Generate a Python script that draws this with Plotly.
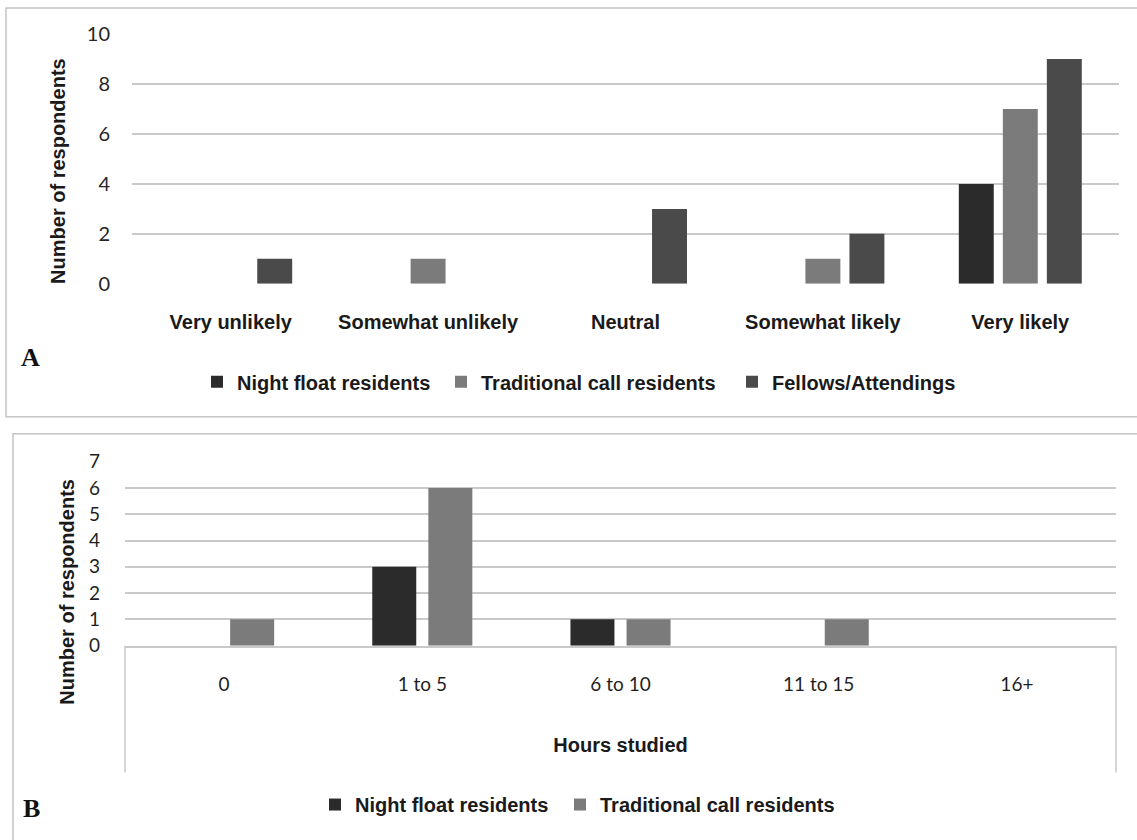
import plotly.graph_objects as go

# ---------------- Data ----------------
likelihood_categories = ["Very unlikely", "Somewhat unlikely", "Neutral", "Somewhat likely", "Very likely"]
a_night_float = [0, 0, 0, 0, 4]
a_traditional = [0, 1, 0, 1, 7]
a_fellows = [1, 0, 3, 2, 9]

hours_categories = ["0", "1 to 5", "6 to 10", "11 to 15", "16+"]
b_night_float = [0, 3, 1, 0, 0]
b_traditional = [1, 6, 1, 1, 0]

series_names = ["Night float residents", "Traditional call residents", "Fellows/Attendings"]
a_ticks = [0, 2, 4, 6, 8, 10]
b_ticks = [0, 1, 2, 3, 4, 5, 6, 7]

# ---------------- Style ----------------
W, H = 1137, 840
C_NIGHT = "#2b2b2b"
C_TRAD = "#7b7b7b"
C_FELL = "#4a4a4a"
GRID = "#c9c9c9"
BOX = "#c4c4c4"
ARIAL = "Liberation Sans, Arial, sans-serif"
CALIBRI = "Lato, Carlito, Calibri, sans-serif"
SERIF = "Liberation Serif, Times New Roman, serif"

# vertical calibration of the captured page
Y_OFF, Y_SCALE = 12.0, 0.972


def px_x(p):
    return p / W


def px_y(p):
    return 1 - ((p - Y_OFF) / Y_SCALE) / H


fig = go.Figure()

# Panel A bars
wA = 0.177
for name, vals, col, off, leg in [
    (series_names[0], a_night_float, C_NIGHT, -0.3115, "legend"),
    (series_names[1], a_traditional, C_TRAD, -0.0885, "legend2"),
    (series_names[2], a_fellows, C_FELL, 0.1345, "legend3"),
]:
    fig.add_trace(go.Bar(
        x=likelihood_categories, y=vals, name=name, xaxis="x", yaxis="y",
        width=wA, offset=off, marker=dict(color=col, line=dict(width=0)),
        legend=leg,
    ))

# Panel B bars
wB = 0.222
for name, vals, col, off, leg in [
    (series_names[0], b_night_float, C_NIGHT, -0.2525, "legend4"),
    (series_names[1], b_traditional, C_TRAD, 0.0305, "legend5"),
]:
    fig.add_trace(go.Bar(
        x=hours_categories, y=vals, name=name, xaxis="x2", yaxis="y2",
        width=wB, offset=off, marker=dict(color=col, line=dict(width=0)),
        legend=leg,
    ))

leg_font = dict(family=ARIAL, size=20, color="#1a1a1a", weight="bold")


def legend_at(text_start_px, y_px):
    return dict(
        orientation="h", x=px_x(text_start_px - 40), xanchor="left",
        y=px_y(y_px), yanchor="middle", font=leg_font,
        bgcolor="rgba(0,0,0,0)", borderwidth=0, itemclick=False, itemdoubleclick=False,
    )


fig.update_layout(
    width=W, height=H,
    margin=dict(l=0, r=0, t=0, b=0),
    paper_bgcolor="white", plot_bgcolor="white",
    barmode="overlay",
    showlegend=True,
    legend=legend_at(237, 381),
    legend2=legend_at(481, 381),
    legend3=legend_at(772, 381),
    legend4=legend_at(355, 804),
    legend5=legend_at(600, 804),
    xaxis=dict(
        domain=[px_x(132), px_x(1119)], anchor="y",
        type="category", categoryorder="array", categoryarray=likelihood_categories,
        showgrid=False, showline=False, zeroline=False, ticks="",
        tickfont=dict(family=ARIAL, size=20, color="#1a1a1a", weight="bold"),
        ticklabelstandoff=24,
    ),
    yaxis=dict(
        domain=[px_y(283), px_y(33)], anchor="x",
        range=[0, 10], tickvals=a_ticks, ticktext=[str(t) for t in a_ticks],
        showgrid=True, gridcolor=GRID, gridwidth=1.5, zeroline=False, showline=False, ticks="",
        tickfont=dict(family=CALIBRI, size=20, color="#262626"),
        ticklabelstandoff=21,
    ),
    xaxis2=dict(
        domain=[px_x(125), px_x(1116)], anchor="y2",
        type="category", categoryorder="array", categoryarray=hours_categories,
        showgrid=False, zeroline=False, showline=True, linecolor=GRID, linewidth=1.5, ticks="",
        tickfont=dict(family=CALIBRI, size=19, color="#1f1f1f"),
        ticklabelstandoff=21,
        title=dict(text="Hours studied", font=dict(family=ARIAL, size=20, color="#1a1a1a", weight="bold"), standoff=44),
    ),
    yaxis2=dict(
        domain=[px_y(645), px_y(461)], anchor="x2",
        range=[0, 7], tickvals=b_ticks, ticktext=[str(t) for t in b_ticks],
        showgrid=True, gridcolor=GRID, gridwidth=1.5, zeroline=False, showline=False, ticks="",
        tickfont=dict(family=CALIBRI, size=19, color="#1f1f1f"),
        ticklabelstandoff=24,
    ),
)

# Panel frames and Excel-style category box lines
shapes = [
    dict(type="rect", xref="paper", yref="paper", x0=px_x(6), x1=px_x(1150), y0=px_y(416), y1=px_y(7),
         line=dict(color=BOX, width=1.5), fillcolor="rgba(0,0,0,0)", layer="below"),
    dict(type="rect", xref="paper", yref="paper", x0=px_x(13), x1=px_x(1150), y0=px_y(880), y1=px_y(433),
         line=dict(color=BOX, width=1.5), fillcolor="rgba(0,0,0,0)", layer="below"),
    dict(type="line", xref="x2 domain", yref="paper", x0=0, x1=0, y0=px_y(645), y1=px_y(772),
         line=dict(color=GRID, width=1.5)),
    dict(type="line", xref="x2 domain", yref="paper", x0=1, x1=1, y0=px_y(645), y1=px_y(772),
         line=dict(color=GRID, width=1.5)),
]
fig.update_layout(shapes=shapes)

annotations = [
    dict(text="Number of respondents", x=px_x(58), y=px_y(170), xref="paper", yref="paper",
         textangle=-90, showarrow=False, xanchor="center", yanchor="middle",
         font=dict(family=ARIAL, size=20, color="#1a1a1a", weight="bold")),
    dict(text="Number of respondents", x=px_x(67), y=px_y(591), xref="paper", yref="paper",
         textangle=-90, showarrow=False, xanchor="center", yanchor="middle",
         font=dict(family=ARIAL, size=20, color="#1a1a1a", weight="bold")),
    dict(text="A", x=px_x(30), y=px_y(357), xref="paper", yref="paper", showarrow=False,
         xanchor="center", yanchor="middle", font=dict(family=SERIF, size=26, color="#111111", weight="bold")),
    dict(text="B", x=px_x(31), y=px_y(808), xref="paper", yref="paper", showarrow=False,
         xanchor="center", yanchor="middle", font=dict(family=SERIF, size=26, color="#111111", weight="bold")),
]
fig.update_layout(annotations=annotations)

fig.write_html(
    "out.html",
    config={"displayModeBar": False},
    post_script="document.body.style.margin='0';document.body.style.overflow='hidden';",
)
